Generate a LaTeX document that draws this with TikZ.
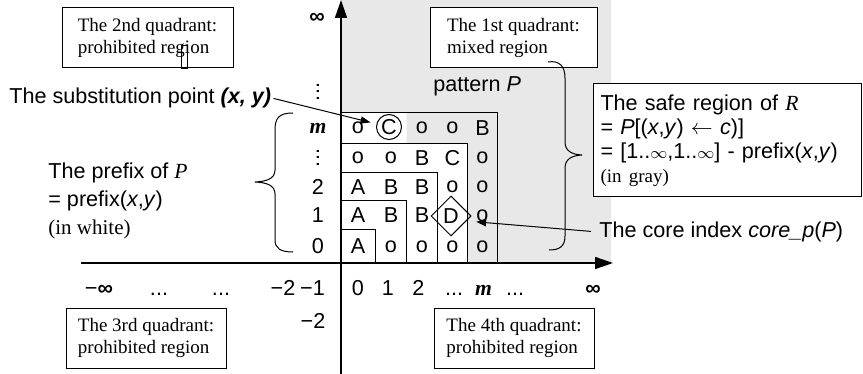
\documentclass[tikz,border=0pt]{standalone}
\usepackage{fontspec}
\setmainfont{Liberation Serif}
\setsansfont{Liberation Sans}
\usetikzlibrary{arrows.meta,shapes.geometric}
\definecolor{safegray}{HTML}{E8E8E8}
\newcommand{\sanssz}{\fontsize{10.8}{13}\selectfont}
\newcommand{\quadsz}{\fontsize{9.5}{11.2}\selectfont}
\newcommand{\serifit}[1]{{\rmfamily\itshape #1}}
\newcommand{\boldm}{{\rmfamily\bfseries\itshape m}}

\begin{document}
\begin{tikzpicture}[
    x=0.5pt, y=-0.5pt,
    every node/.style={font=\sffamily\sanssz},
    quadbox/.style={
        draw,
        line width=0.5pt,
        fill=white,
        align=left,
        minimum width=85.5pt,
        minimum height=30pt,
        font=\rmfamily\quadsz,
    },
    safebox/.style={
        draw,
        line width=0.5pt,
        fill=white,
        align=left,
        text width=127pt,
        inner xsep=3.5pt,
        minimum height=56.5pt,
    },
    cellnode/.style={inner sep=0pt},
    circcell/.style={circle,draw,line width=0.5pt,inner sep=0pt,minimum size=12.5pt},
    diacell/.style={diamond,draw,line width=0.5pt,inner sep=0pt,minimum size=20pt},
    lbl/.style={inner sep=0pt},
    ticklbl/.style={inner sep=0pt,anchor=base},
    vdotslbl/.style={inner sep=0pt,rotate=90},
    axisarr/.style={-{Triangle[length=9pt,width=6pt]},line width=0.8pt},
    ptrarr/.style={-{Triangle[length=5pt,width=3.6pt]},line width=0.5pt},
    stairline/.style={line width=0.5pt},
    curlybrace/.style={line width=0.5pt},
]
\useasboundingbox (0,0) rectangle (863,374);

% === Regions ===
\fill[safegray] (341,0) rectangle (611,263);
\fill[white] (341,263) -- (467.5,263) -- (467.5,143.5) -- (406.5,143.5)
    -- (406.5,112.5) -- (341,112.5) -- cycle;

% === Nested prefixes ===
\draw[stairline] (341,263) rectangle (375.5,230);
\draw[stairline] (341,263) rectangle (406.5,201);
\draw[stairline] (341,263) rectangle (437.5,172.5);
\draw[stairline] (341,263) rectangle (467.5,143.5);
\draw[stairline] (341,263) rectangle (497.5,112.5);

% === Axes ===
\coordinate (ybot) at (341,374);
\coordinate (ytop) at (341,0);
\coordinate (xleft) at (81,263);
\coordinate (xright) at (613,263);
\draw[axisarr] (ybot) -- (ytop);
\draw[axisarr] (xleft) -- (xright);

% === Pattern cells ===
\node[cellnode] (r0c0) at (358,246.5) {A};
\node[cellnode] (r0c1) at (391,246.5) {o};
\node[cellnode] (r0c2) at (422,246.5) {o};
\node[cellnode] (r0c3) at (452.5,246.5) {o};
\node[cellnode] (r0c4) at (482.5,246.5) {o};

\node[cellnode] (r1c0) at (358,215.5) {A};
\node[cellnode] (r1c1) at (391,215.5) {B};
\node[cellnode] (r1c2) at (422,215.5) {B};
\node[diacell] (dD) at (451,216) {D};
\node[cellnode] (r1c4) at (482.5,215.5) {o};

\node[cellnode] (r2c0) at (358,187) {A};
\node[cellnode] (r2c1) at (391,187) {B};
\node[cellnode] (r2c2) at (422,187) {B};
\node[cellnode] (r2c3) at (452.5,187) {o};
\node[cellnode] (r2c4) at (482.5,187) {o};

\node[cellnode] (r3c0) at (358,158) {o};
\node[cellnode] (r3c1) at (391,158) {o};
\node[cellnode] (r3c2) at (422,158) {B};
\node[cellnode] (r3c3) at (452.5,158) {C};
\node[cellnode] (r3c4) at (482.5,158) {o};

\node[cellnode] (r4c0) at (358,128) {o};
\node[circcell] (cC) at (389,127) {C};
\node[cellnode] (r4c2) at (422,128) {o};
\node[cellnode] (r4c3) at (452.5,128) {o};
\node[cellnode] (r4c4) at (482.5,128) {B};

% === Axis labels ===
\node[lbl] (yinf) at (317,18) {\textbf{∞}};
\node[vdotslbl] (ydots) at (318,92) {...};
\node[lbl] (ym) at (318,128) {\boldm};
\node[vdotslbl] (ydots2) at (318,158) {...};
\node[lbl] (y2) at (318,187) {2};
\node[lbl] (y1) at (318,215.5) {1};
\node[lbl] (y0) at (318,246.5) {0};
\node[lbl] (ym2) at (313,321) {−2};

\node[ticklbl] (xminf) at (99,295) {−\textbf{∞}};
\node[ticklbl] (xdl1) at (159,295) {...};
\node[ticklbl] (xdl2) at (221,295) {...};
\node[ticklbl] (xm2) at (283,295) {−2};
\node[ticklbl] (xm1) at (312.5,295) {−1};
\node[ticklbl] (x0) at (358,295) {0};
\node[ticklbl] (x1) at (388,295) {1};
\node[ticklbl] (x2) at (418.5,295) {2};
\node[ticklbl] (xdr1) at (454,295) {...};
\node[ticklbl] (xm) at (483.5,295) {\boldm};
\node[ticklbl] (xdr2) at (515,295) {...};
\node[ticklbl] (xinf) at (593,295) {\textbf{∞}};

% === Quadrant boxes ===
\node[quadbox] (q2) at (147.5,38) {The 2nd quadrant:\\prohibited region};
\draw[line width=0.4pt] (181,45) rectangle (187,68);
\node[quadbox,minimum width=83.5pt] (q1) at (513.5,38) {The 1st quadrant:\\mixed region};
\node[quadbox,minimum width=80pt] (q3) at (146,338)
    {The 3rd quadrant:\\prohibited region};
\node[quadbox,minimum width=80pt] (q4) at (514,338)
    {The 4th quadrant:\\prohibited region};

% === Notes ===
\node[lbl,anchor=base west] (pat) at (433,92) {pattern \textit{P}};

\node[lbl,inner xsep=1pt,anchor=base west] (subst) at (7,104)
    {The substitution point \textbf{\textit{(x, y)}}};
\draw[ptrarr,shorten >=3pt] (subst.east) -- (cC);

\node[lbl,inner xsep=4pt,anchor=base west] (core) at (591,237)
    {The core index \textit{core\_p}(\textit{P})};
\draw[ptrarr] (core.west) -- (r1c4.south west);

\node[lbl,align=left,anchor=west,font=\sffamily\fontsize{10.8}{14}\selectfont] (prefix) at (48,201) {
    The prefix of \serifit{P}\\
    = prefix(\textit{x},\textit{y})\\
    {\rmfamily\fontsize{10.5}{14}\selectfont (in white)}
};

\node[safebox,font=\sffamily\fontsize{10.8}{12}\selectfont] (safe) at (727.5,140.5) {
    The safe region of \serifit{R}\\
    = \textit{P}[(\textit{x},\textit{y}) $\leftarrow$ \textit{c})]\\
    = [1..$\scriptstyle\infty$,1..$\scriptstyle\infty$] - prefix(\textit{x},\textit{y})\\
    {\rmfamily\fontsize{9.5}{12}\selectfont (in gray)}
};

% === Braces ===
\draw[curlybrace] (293,113) .. controls (279,113) and (275,118) .. (275,130)
    -- (275,170) .. controls (275,179) and (266,181.5) .. (255,182)
    .. controls (266,182.5) and (275,185) .. (275,194)
    -- (275,240) .. controls (275,248) and (280,252) .. (293,252);
\draw[curlybrace] (548,62) .. controls (560,60) and (565,67) .. (565,78)
    -- (565,142) .. controls (565,151) and (572,154.5) .. (582,155)
    .. controls (572,155.5) and (565,159) .. (565,168)
    -- (565,236) .. controls (565,246) and (560,250) .. (549,250);

\end{tikzpicture}
\end{document}
